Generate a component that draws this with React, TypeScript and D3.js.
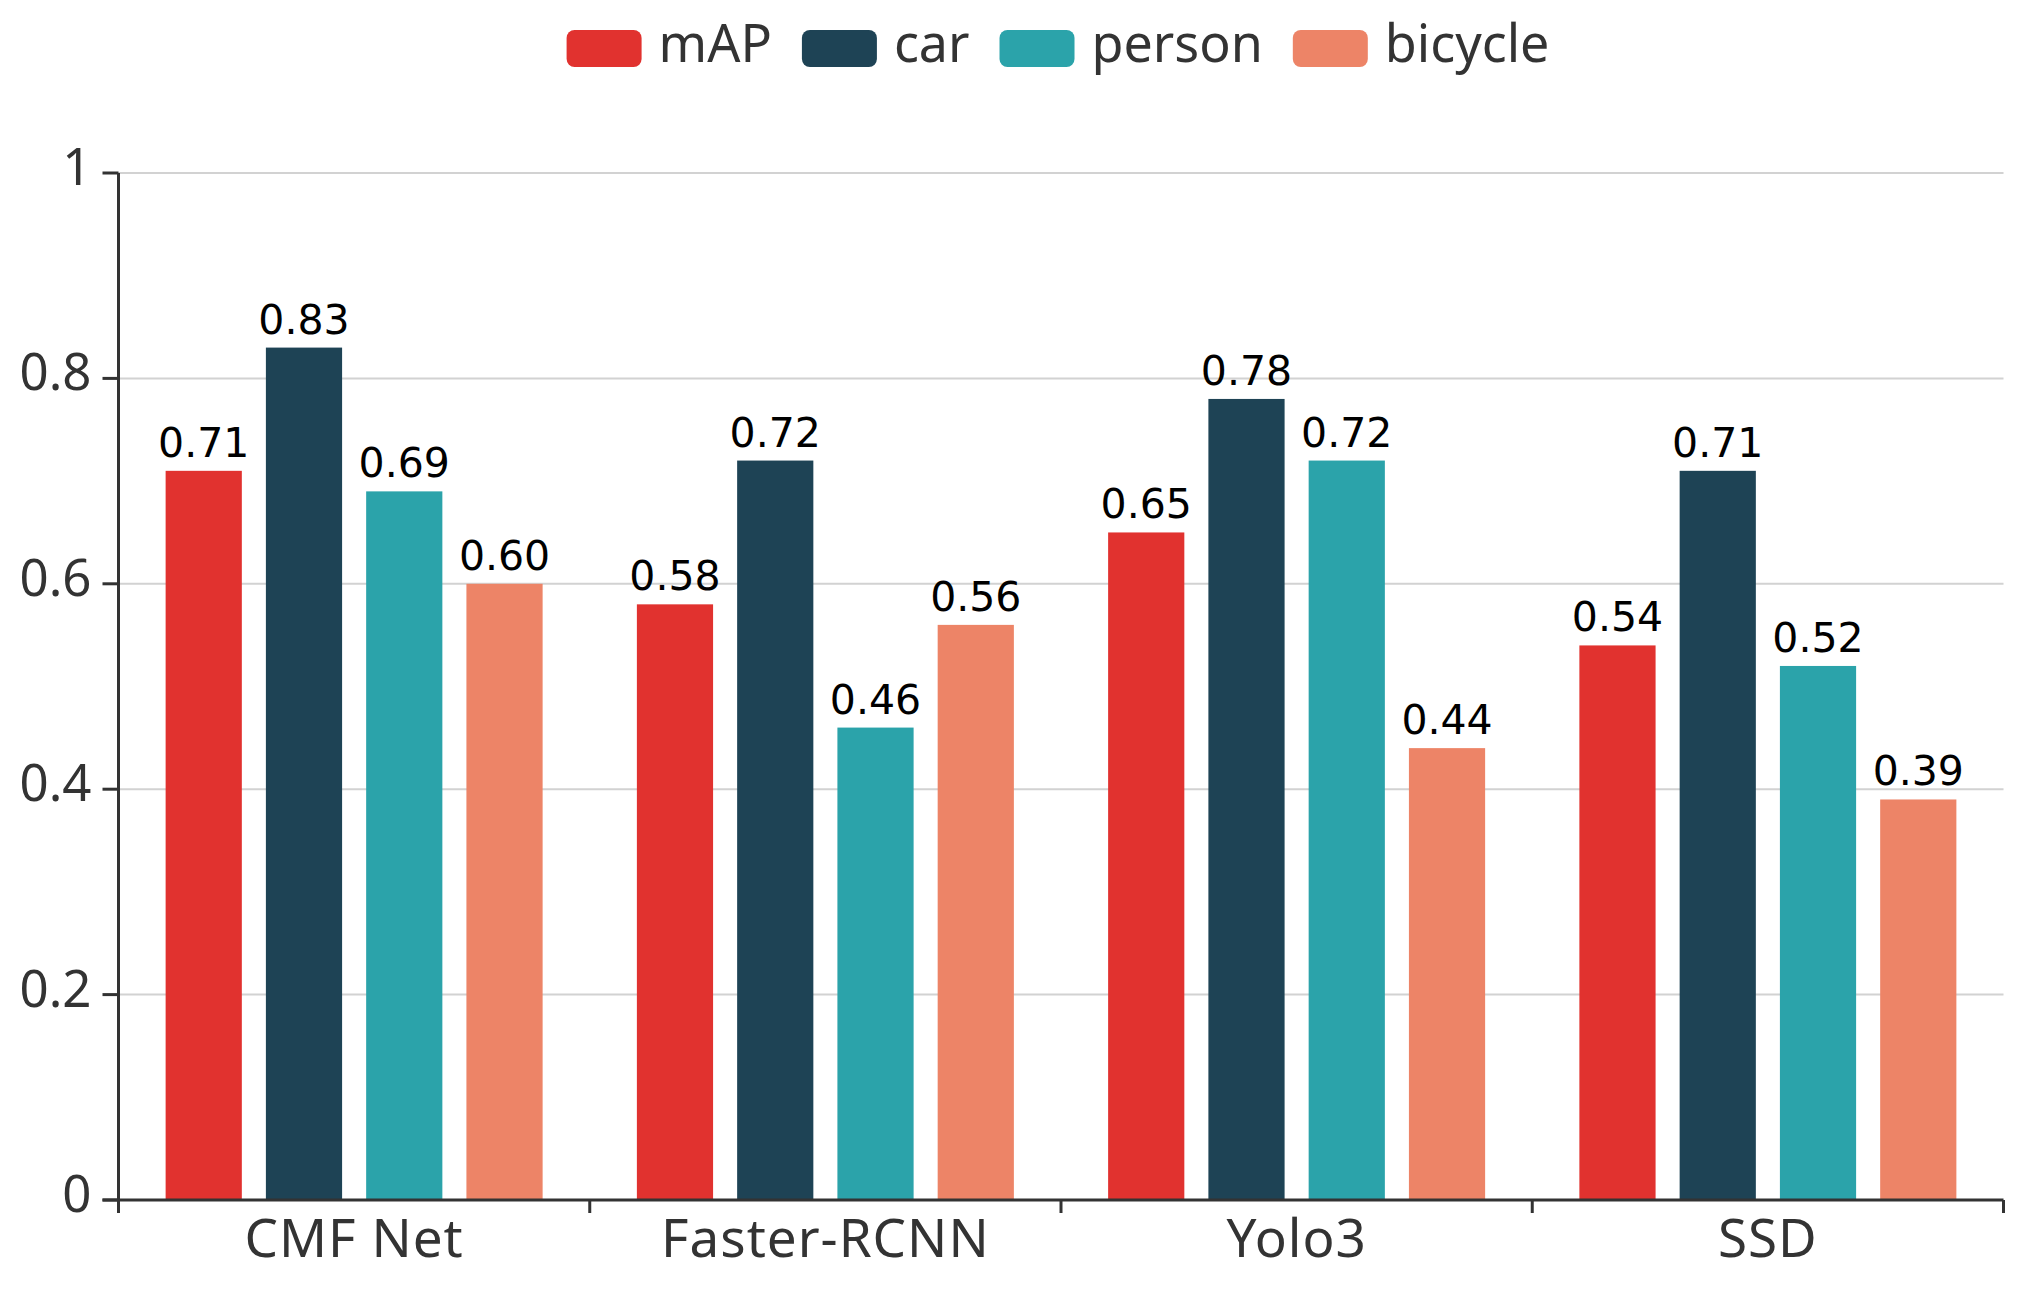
import React, { useEffect, useRef } from 'react';
import * as d3 from 'd3';

const categories = ['CMF Net', 'Faster-RCNN', 'Yolo3', 'SSD'];
const seriesNames = ['mAP', 'car', 'person', 'bicycle'];
const mapValues = [0.71, 0.58, 0.65, 0.54];
const carValues = [0.83, 0.72, 0.78, 0.71];
const personValues = [0.69, 0.46, 0.72, 0.52];
const bicycleValues = [0.60, 0.56, 0.44, 0.39];
const yTicks = [0, 0.2, 0.4, 0.6, 0.8, 1];
const colors = ['#e1322f', '#1e4355', '#2ba3aa', '#ed8467'];

const W = 2023;
const H = 1291;
const margin = { top: 173, right: 19.5, bottom: 91, left: 118.5 };

const App: React.FC = () => {
    const ref = useRef<SVGSVGElement>(null);

    useEffect(() => {
        document.body.style.margin = '0';
        document.body.style.overflow = 'hidden';
        drawChart();
    }, []);

    function drawChart() {
        const root = d3.select(ref.current);
        root.selectAll('*').remove();

        const allSeries = [mapValues, carValues, personValues, bicycleValues];
        const width = W - margin.left - margin.right;
        const height = H - margin.top - margin.bottom;
        const labelFont = '"Microsoft YaHei", "Noto Sans", sans-serif';

        const svg = root.append('g')
            .attr('transform', `translate(${margin.left},${margin.top})`);

        const x = d3.scaleBand().domain(categories).range([0, width]).paddingInner(0).paddingOuter(0);
        // 20% category gap, ~30% gap between bars
        const inner = d3.scaleBand().domain(seriesNames)
            .range([x.bandwidth() * 0.1, x.bandwidth() * 0.9])
            .paddingInner(0.24);
        const y = d3.scaleLinear().domain([0, 1]).range([height, 0]);

        // grid lines
        svg.append('g')
            .selectAll('line')
            .data(yTicks.filter(t => t > 0))
            .enter()
            .append('line')
            .attr('x1', 0)
            .attr('x2', width)
            .attr('y1', d => y(d))
            .attr('y2', d => y(d))
            .attr('stroke', '#d2d2d2')
            .attr('stroke-width', 2);

        // bars + value labels
        allSeries.forEach((vals, si) => {
            svg.append('g')
                .selectAll('rect')
                .data(vals)
                .enter()
                .append('rect')
                .attr('x', (d, i) => x(categories[i])! + inner(seriesNames[si])!)
                .attr('y', d => y(d))
                .attr('width', inner.bandwidth())
                .attr('height', d => height - y(d))
                .attr('fill', colors[si]);

            svg.append('g')
                .selectAll('text')
                .data(vals)
                .enter()
                .append('text')
                .attr('x', (d, i) => x(categories[i])! + inner(seriesNames[si])! + inner.bandwidth() / 2)
                .attr('y', d => y(d) - 14)
                .attr('text-anchor', 'middle')
                .attr('font-family', '"DejaVu Sans", Verdana, sans-serif')
                .attr('font-size', 41)
                .attr('fill', '#000')
                .text(d => d.toFixed(2));
        });

        // y axis
        const yAxis = svg.append('g');
        yAxis.append('line')
            .attr('x1', 0).attr('x2', 0)
            .attr('y1', 0).attr('y2', height + 13)
            .attr('stroke', '#333').attr('stroke-width', 3);
        yAxis.selectAll('line.tick')
            .data(yTicks)
            .enter()
            .append('line')
            .attr('class', 'tick')
            .attr('x1', -16).attr('x2', 0)
            .attr('y1', d => y(d)).attr('y2', d => y(d))
            .attr('stroke', '#333').attr('stroke-width', 3);
        yAxis.selectAll('text')
            .data(yTicks)
            .enter()
            .append('text')
            .attr('x', -27)
            .attr('y', d => y(d) + 12)
            .attr('text-anchor', 'end')
            .attr('font-family', labelFont)
            .attr('font-size', 51)
            .attr('fill', '#333')
            .text(d => d3.format('~g')(d));

        // x axis
        const xAxis = svg.append('g').attr('transform', `translate(0,${height})`);
        xAxis.append('line')
            .attr('x1', -16).attr('x2', width)
            .attr('stroke', '#333').attr('stroke-width', 3);
        const edges = categories.map(c => x(c)!).concat([width]);
        xAxis.selectAll('line.tick')
            .data(edges)
            .enter()
            .append('line')
            .attr('class', 'tick')
            .attr('x1', d => d).attr('x2', d => d)
            .attr('y1', 0).attr('y2', 13)
            .attr('stroke', '#333').attr('stroke-width', 3);
        xAxis.selectAll('text')
            .data(categories)
            .enter()
            .append('text')
            .attr('x', d => x(d)! + x.bandwidth() / 2)
            .attr('y', 57)
            .attr('text-anchor', 'middle')
            .attr('font-family', labelFont)
            .attr('font-size', 53)
            .attr('letter-spacing', 1)
            .attr('fill', '#333')
            .text(d => d);

        // legend
        const legend = root.append('g');
        const items = legend.selectAll('g')
            .data(seriesNames)
            .enter()
            .append('g');
        items.append('rect')
            .attr('width', 75).attr('height', 37)
            .attr('y', 30)
            .attr('rx', 8).attr('ry', 8)
            .attr('fill', (d, i) => colors[i]);
        items.append('text')
            .attr('x', 92)
            .attr('y', 62)
            .attr('font-family', labelFont)
            .attr('font-size', 52)
            .attr('fill', '#333')
            .text(d => d);
        const widths: number[] = [];
        items.each(function () {
            const t = d3.select(this).select('text').node() as SVGTextElement;
            widths.push(92 + t.getComputedTextLength());
        });
        const gap = 30;
        const total = d3.sum(widths) + gap * (widths.length - 1);
        let cursor = 1058 - total / 2;
        items.attr('transform', (d, i) => {
            const tx = cursor;
            cursor += widths[i] + gap;
            return `translate(${tx},0)`;
        });
    }

    return <svg ref={ref} width={W} height={H} style={{ display: 'block', background: '#fff' }} />;
};

export default App;
